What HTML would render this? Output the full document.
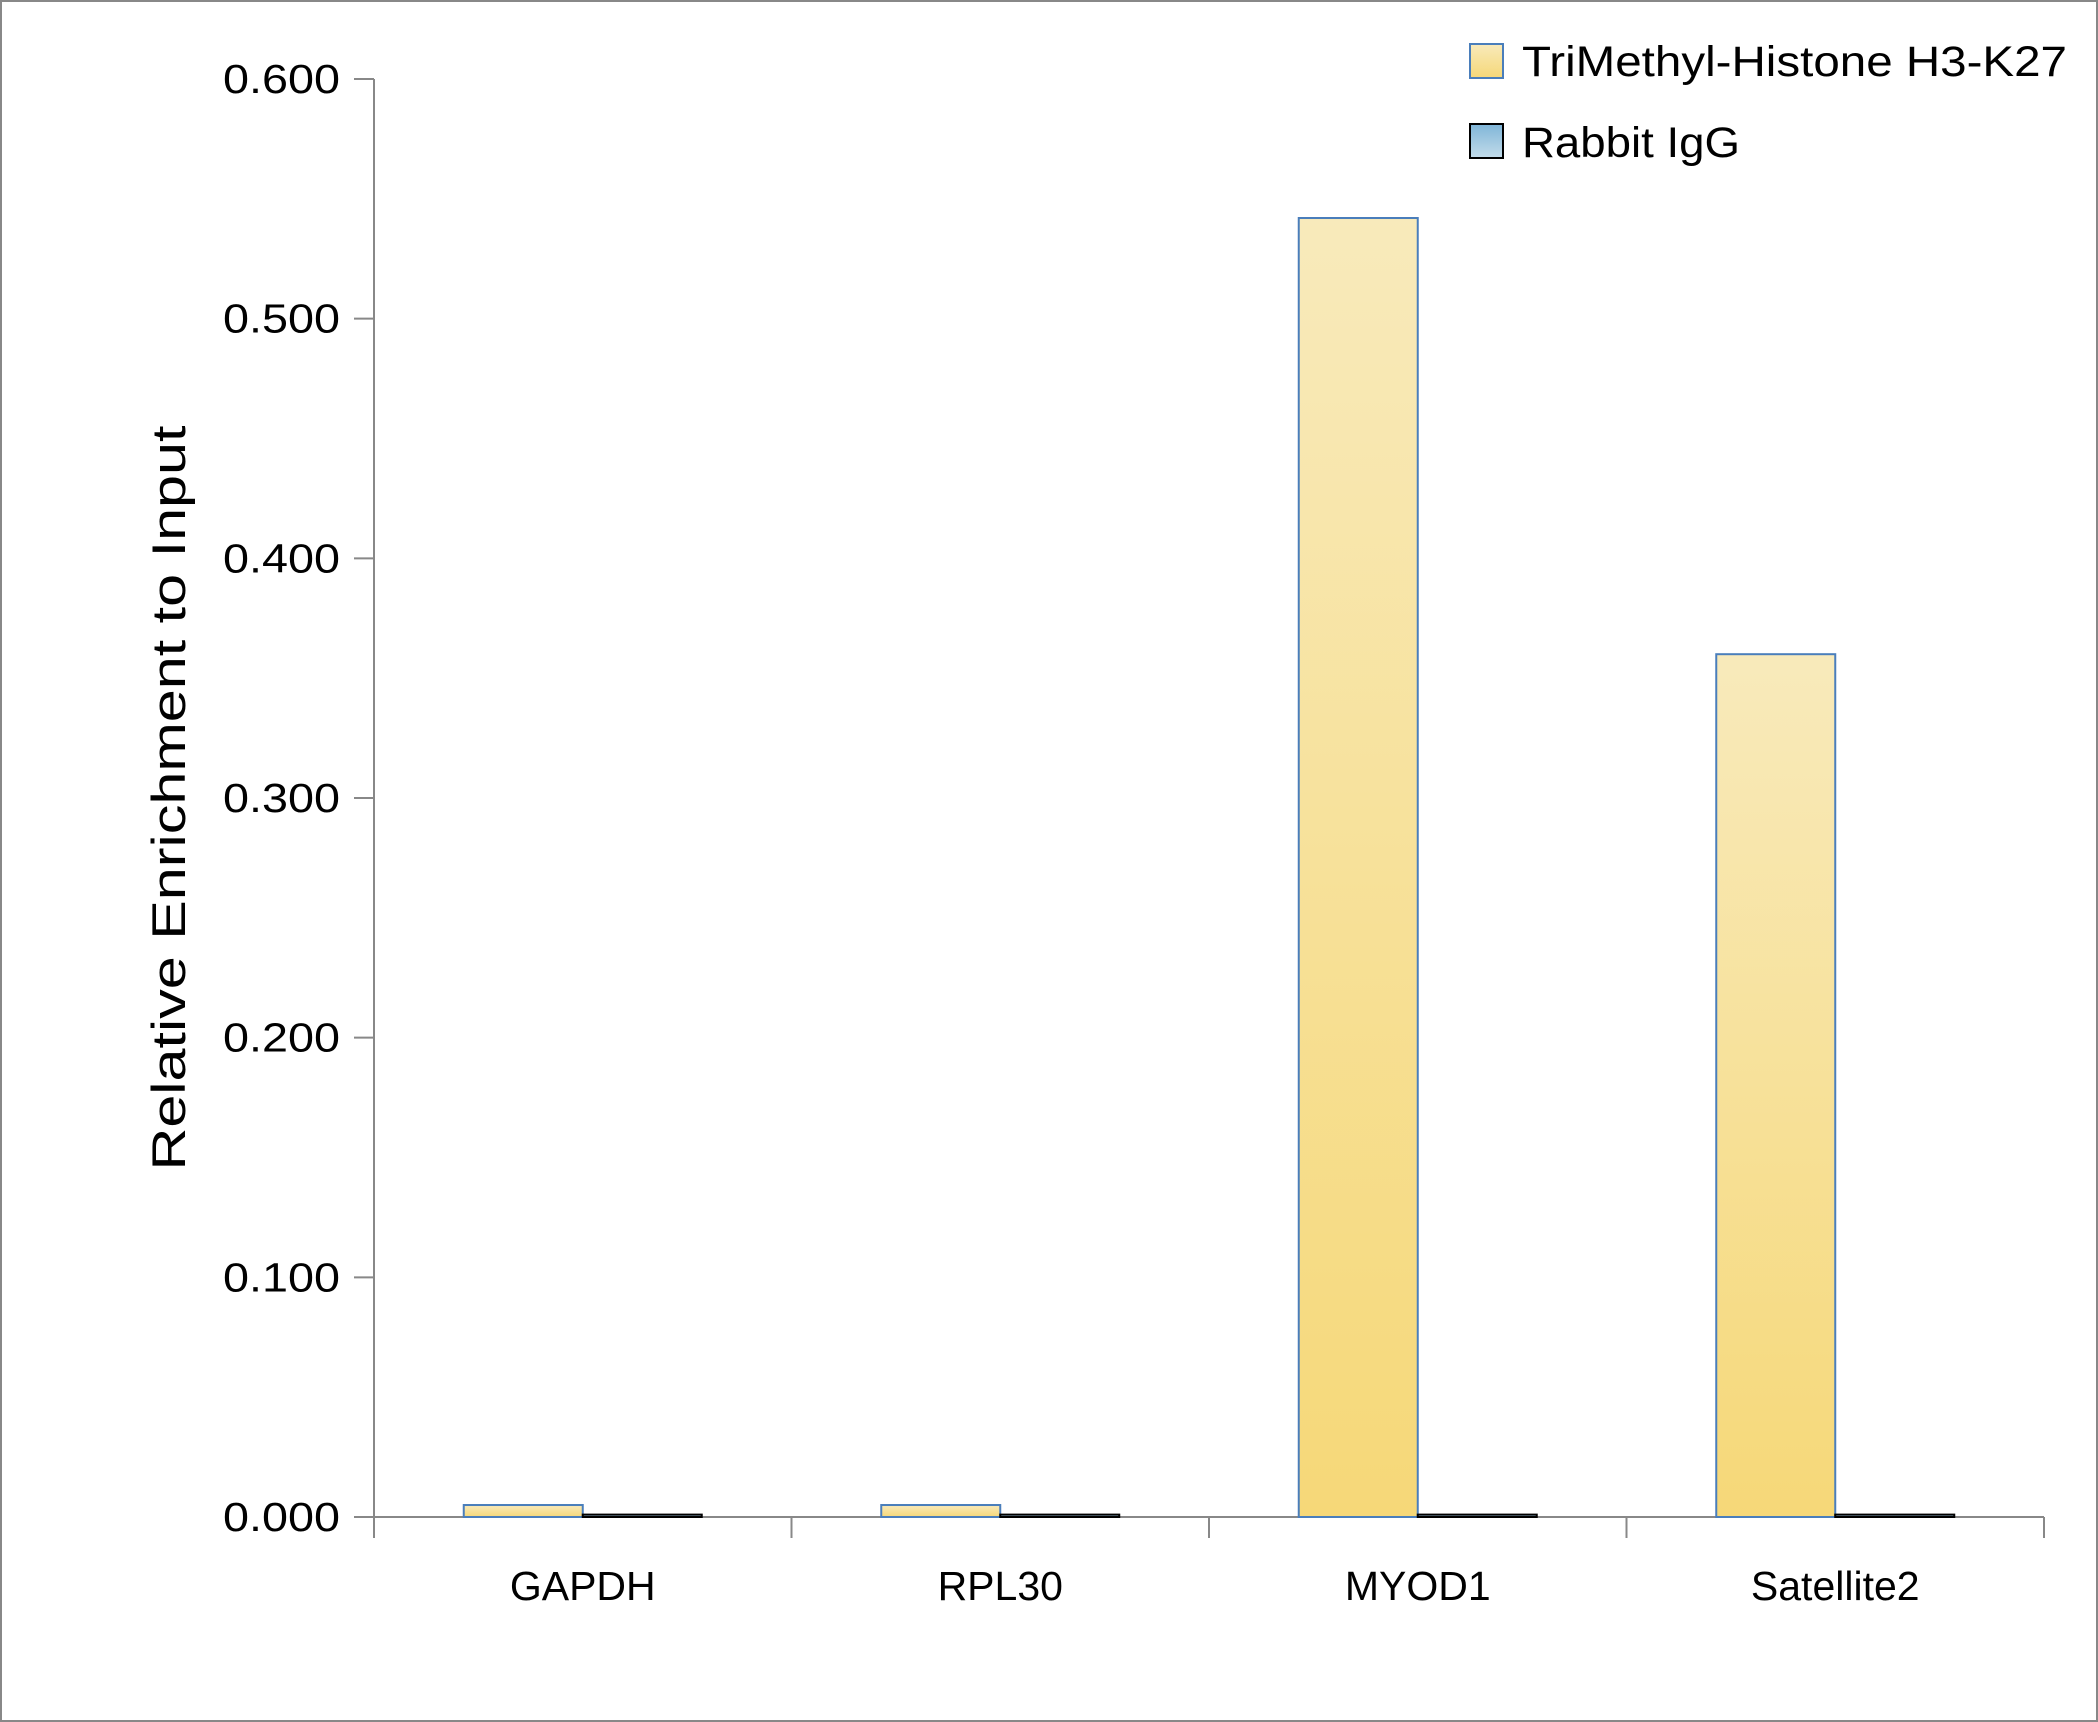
<!DOCTYPE html>
<html><head><meta charset="utf-8"><style>
html,body{margin:0;padding:0;background:#fff}
svg{display:block;font-family:"Liberation Sans",Carlito,sans-serif}
</style></head><body>
<svg id="chart" width="2098" height="1722" viewBox="0 0 2098 1722">
<defs>
<linearGradient id="gy" x1="0" y1="0" x2="0" y2="1"><stop offset="0" stop-color="#f8eabb"/><stop offset="1" stop-color="#f6d878"/></linearGradient>
<linearGradient id="gb" x1="0" y1="0" x2="0" y2="1"><stop offset="0" stop-color="#7fb5d8"/><stop offset="1" stop-color="#c3dcea"/></linearGradient>
</defs>
<rect x="1" y="1" width="2096" height="1720" fill="#fff" stroke="#888" stroke-width="2"/>
<g id="axes"></g>
<g id="bars"></g>
<text transform="translate(185,798) rotate(-90)" text-anchor="middle" font-size="47" textLength="745" lengthAdjust="spacingAndGlyphs" fill="#000">Relative Enrichment to Input</text>
<g>
<rect x="1470" y="44" width="33" height="34" fill="url(#gy)" stroke="#4a7ebb" stroke-width="2"/>
<text x="1522" y="76" font-size="43" textLength="545" lengthAdjust="spacingAndGlyphs">TriMethyl-Histone H3-K27</text>
<rect x="1470" y="124" width="33" height="34" fill="url(#gb)" stroke="#000" stroke-width="2"/>
<text x="1522" y="157" font-size="43" textLength="218" lengthAdjust="spacingAndGlyphs">Rabbit IgG</text>
</g>
</svg>
<script>
const categories = ["GAPDH","RPL30","MYOD1","Satellite2"];
const trimethylValues = [0.005,0.005,0.542,0.360];
const iggValues = [0.001,0.001,0.001,0.001];
const yTickLabels = ["0.000","0.100","0.200","0.300","0.400","0.500","0.600"];
const yTickValues = [0,0.1,0.2,0.3,0.4,0.5,0.6];

const NS="http://www.w3.org/2000/svg";
const X0=374,X1=2044,Y0=1517,Y1=79,VMAX=0.6;
const yScale=v=>Y0-(v/VMAX)*(Y0-Y1);
const catW=(X1-X0)/categories.length;
const xCat=i=>X0+catW*(i+0.5);
const barW=119;
function mk(tag,attrs,parent){const e=document.createElementNS(NS,tag);for(const k in attrs)e.setAttribute(k,attrs[k]);parent.appendChild(e);return e;}
const axes=document.getElementById('axes'), bars=document.getElementById('bars');
let yl=mk('line',{x1:X0,y1:Y1,x2:X0,y2:Y0,stroke:'#888','stroke-width':2},axes);


let xl=mk('line',{x1:X0,y1:Y0,x2:X1,y2:Y0,stroke:'#888','stroke-width':2},axes);


yTickValues.forEach((v,i)=>{
  const y=yScale(v);
  let t=mk('line',{x1:X0-20,y1:y,x2:X0,y2:y,stroke:'#888','stroke-width':2},axes);
  
  
  let lb=mk('text',{x:340,y:y+14,'text-anchor':'end','font-size':41,textLength:117,lengthAdjust:'spacingAndGlyphs'},axes);
  lb.textContent=yTickLabels[i];
  
  
});
for(let i=0;i<=categories.length;i++){
  const x=X0+catW*i;
  let t=mk('line',{x1:x,y1:Y0,x2:x,y2:Y0+21,stroke:'#888','stroke-width':2},axes);
  
  
}
categories.forEach((c,i)=>{
  const cx=xCat(i);
  let lb=mk('text',{x:cx,y:1600,'text-anchor':'middle','font-size':41},axes);
  lb.textContent=c;
  
  
  const yt=yScale(trimethylValues[i]);
  let b1=mk('rect',{x:cx-barW,y:yt,width:barW,height:Y0-yt,fill:'url(#gy)',stroke:'#4a7ebb','stroke-width':2},bars);
  
  
  const yi=yScale(iggValues[i]);
  let b2=mk('rect',{x:cx,y:yi,width:barW,height:Y0-yi,fill:'url(#gb)',stroke:'#000','stroke-width':2},bars);
  
  
});
</script>
</body></html>
